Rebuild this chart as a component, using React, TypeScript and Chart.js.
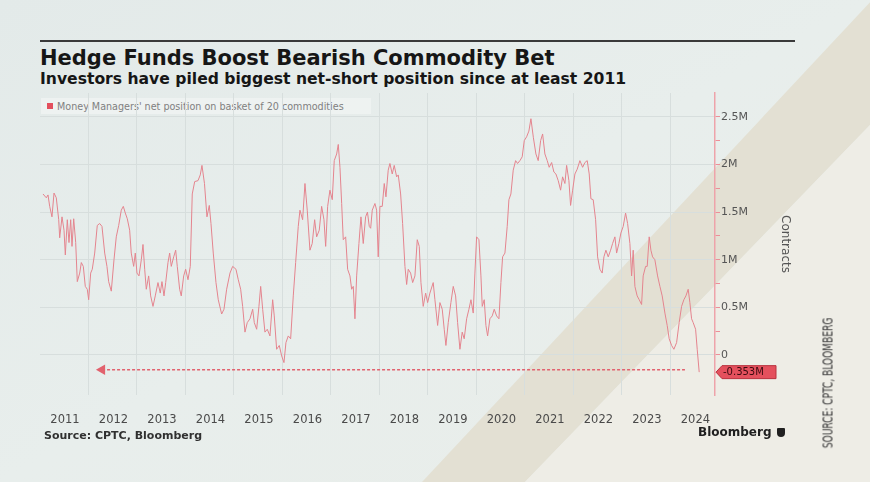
import { useEffect, useRef } from 'react';
import { Chart, registerables } from 'chart.js';

Chart.register(...registerables);

// Sample dates (fractional years) and net position (millions of contracts)
const dates: number[] = [
  2011.062, 2011.130, 2011.165, 2011.200, 2011.247, 2011.289, 2011.336, 2011.386, 2011.406, 2011.454,
  2011.495, 2011.522, 2011.563, 2011.598, 2011.633, 2011.660, 2011.695, 2011.736, 2011.769, 2011.819,
  2011.852, 2011.893, 2011.934, 2011.975, 2012.004, 2012.045, 2012.078, 2012.128, 2012.181, 2012.231,
  2012.278, 2012.334, 2012.381, 2012.416, 2012.470, 2012.526, 2012.573, 2012.623, 2012.676, 2012.718,
  2012.759, 2012.800, 2012.849, 2012.882, 2012.932, 2012.965, 2013.000, 2013.041, 2013.089, 2013.124,
  2013.159, 2013.192, 2013.241, 2013.282, 2013.330, 2013.377, 2013.433, 2013.480, 2013.515, 2013.557,
  2013.592, 2013.639, 2013.674, 2013.707, 2013.757, 2013.798, 2013.831, 2013.880, 2013.913, 2013.963,
  2014.004, 2014.052, 2014.099, 2014.140, 2014.190, 2014.258, 2014.305, 2014.340, 2014.392, 2014.443,
  2014.491, 2014.526, 2014.573, 2014.629, 2014.676, 2014.746, 2014.794, 2014.849, 2014.918, 2014.973,
  2015.041, 2015.089, 2015.138, 2015.179, 2015.227, 2015.274, 2015.330, 2015.386, 2015.419, 2015.468,
  2015.515, 2015.551, 2015.592, 2015.639, 2015.687, 2015.742, 2015.798, 2015.831, 2015.880, 2015.934,
  2015.984, 2016.031, 2016.072, 2016.120, 2016.169, 2016.223, 2016.272, 2016.326, 2016.361, 2016.416,
  2016.464, 2016.511, 2016.567, 2016.614, 2016.664, 2016.705, 2016.759, 2016.808, 2016.856, 2016.891,
  2016.932, 2016.979, 2017.027, 2017.068, 2017.118, 2017.151, 2017.186, 2017.221, 2017.254, 2017.303,
  2017.344, 2017.392, 2017.427, 2017.460, 2017.495, 2017.530, 2017.577, 2017.619, 2017.666, 2017.715,
  2017.753, 2017.790, 2017.819, 2017.852, 2017.907, 2017.942, 2017.975, 2018.010, 2018.058, 2018.099,
  2018.134, 2018.181, 2018.216, 2018.264, 2018.305, 2018.355, 2018.388, 2018.437, 2018.478, 2018.526,
  2018.561, 2018.594, 2018.643, 2018.685, 2018.732, 2018.780, 2018.821, 2018.856, 2018.903, 2018.953,
  2018.994, 2019.041, 2019.109, 2019.144, 2019.200, 2019.247, 2019.295, 2019.336, 2019.371, 2019.419,
  2019.474, 2019.522, 2019.571, 2019.612, 2019.660, 2019.707, 2019.748, 2019.798, 2019.845, 2019.887,
  2019.934, 2019.969, 2020.004, 2020.052, 2020.093, 2020.120, 2020.161, 2020.196, 2020.231, 2020.278,
  2020.326, 2020.367, 2020.416, 2020.464, 2020.505, 2020.540, 2020.588, 2020.635, 2020.670, 2020.711,
  2020.759, 2020.808, 2020.849, 2020.897, 2020.944, 2020.986, 2021.035, 2021.082, 2021.124, 2021.175,
  2021.227, 2021.274, 2021.324, 2021.365, 2021.412, 2021.460, 2021.501, 2021.551, 2021.598, 2021.639,
  2021.687, 2021.736, 2021.777, 2021.825, 2021.860, 2021.907, 2021.942, 2021.984, 2022.031, 2022.078,
  2022.134, 2022.190, 2022.237, 2022.285, 2022.326, 2022.361, 2022.408, 2022.458, 2022.499, 2022.546,
  2022.594, 2022.629, 2022.670, 2022.718, 2022.767, 2022.808, 2022.856, 2022.891, 2022.938, 2022.979,
  2023.027, 2023.076, 2023.118, 2023.165, 2023.200, 2023.233, 2023.268, 2023.315, 2023.357, 2023.406,
  2023.439, 2023.489, 2023.522, 2023.563, 2023.598, 2023.633, 2023.680, 2023.736, 2023.784, 2023.831,
  2023.887, 2023.934, 2023.975, 2024.025, 2024.072, 2024.128, 2024.181, 2024.231, 2024.278, 2024.320,
  2024.367, 2024.402, 2024.437, 2024.470, 2024.520, 2024.553, 2024.594,
];

const values: number[] = [
  1.69, 1.65, 1.68, 1.56, 1.45, 1.70, 1.65, 1.42, 1.23, 1.45,
  1.31, 1.05, 1.42, 1.18, 1.42, 1.14, 1.43, 1.18, 0.77, 0.86,
  0.97, 0.93, 0.72, 0.69, 0.58, 0.86, 0.90, 1.07, 1.36, 1.38,
  1.35, 1.07, 0.93, 0.77, 0.67, 1.00, 1.24, 1.36, 1.52, 1.56,
  1.49, 1.43, 1.31, 1.07, 0.93, 1.07, 0.86, 0.83, 1.00, 1.16,
  0.90, 0.69, 0.83, 0.62, 0.51, 0.62, 0.76, 0.65, 0.77, 0.62,
  0.76, 0.97, 1.07, 0.93, 1.03, 1.10, 0.93, 0.69, 0.62, 0.83,
  0.90, 0.79, 0.93, 1.69, 1.82, 1.83, 1.89, 1.99, 1.80, 1.45,
  1.57, 1.38, 1.07, 0.76, 0.58, 0.43, 0.48, 0.69, 0.86, 0.93,
  0.90, 0.79, 0.69, 0.51, 0.24, 0.34, 0.38, 0.48, 0.34, 0.27,
  0.51, 0.72, 0.48, 0.24, 0.27, 0.20, 0.58, 0.41, 0.06, 0.10,
  -0.01, -0.08, 0.13, 0.20, 0.17, 0.62, 0.97, 1.35, 1.52, 1.42,
  1.80, 1.52, 1.10, 1.17, 1.42, 1.24, 1.31, 1.56, 1.42, 1.14,
  1.56, 1.73, 1.63, 2.04, 2.11, 2.21, 1.97, 1.59, 1.21, 1.24,
  0.90, 0.83, 0.69, 0.72, 0.38, 0.83, 1.17, 1.45, 1.17, 1.45,
  1.50, 1.35, 1.33, 1.52, 1.59, 1.52, 1.03, 1.56, 1.56, 1.80,
  1.66, 1.94, 2.01, 1.90, 1.99, 1.87, 1.89, 1.69, 1.38, 0.93,
  0.74, 0.90, 0.86, 0.76, 0.83, 1.21, 1.14, 0.76, 0.51, 0.65,
  0.55, 0.65, 0.76, 0.58, 0.31, 0.55, 0.48, 0.27, 0.10, 0.34,
  0.55, 0.72, 0.62, 0.34, 0.06, 0.24, 0.17, 0.38, 0.48, 0.58,
  0.44, 0.86, 1.24, 1.21, 0.83, 0.51, 0.58, 0.31, 0.20, 0.38,
  0.41, 0.48, 0.41, 0.38, 0.76, 1.03, 1.07, 1.35, 1.63, 1.69,
  1.94, 2.04, 2.01, 2.04, 2.08, 2.25, 2.29, 2.35, 2.48, 2.28,
  2.11, 2.04, 2.25, 2.32, 2.11, 2.04, 1.97, 2.02, 1.92, 1.90,
  1.83, 1.73, 1.87, 1.80, 1.99, 1.83, 1.57, 1.73, 1.90, 1.95,
  2.04, 1.97, 2.02, 2.04, 1.90, 1.64, 1.63, 1.42, 1.03, 0.90,
  0.86, 1.03, 1.10, 1.03, 1.10, 1.17, 1.24, 1.07, 1.17, 1.28,
  1.35, 1.49, 1.38, 1.17, 0.83, 1.10, 0.72, 0.62, 0.58, 0.53,
  0.83, 0.93, 0.93, 1.24, 1.10, 1.03, 1.00, 0.83, 0.72, 0.62,
  0.44, 0.31, 0.17, 0.10, 0.06, 0.13, 0.34, 0.51, 0.58, 0.62,
  0.69, 0.55, 0.38, 0.34, 0.27, 0.06, -0.18,
];

const yearTicks: number[] = [2011, 2012, 2013, 2014, 2015, 2016, 2017, 2018, 2019, 2020, 2021, 2022, 2023, 2024];
const yTickValues: number[] = [0, 0.25, 0.5, 0.75, 1, 1.25, 1.5, 1.75, 2, 2.25, 2.5];
const yTickLabels: string[] = ['0', '', '0.5M', '', '1M', '', '1.5M', '', '2M', '', '2.5M'];

const arrowDates: number[] = [2012.28, 2024.3];
const arrowValues: number[] = [-0.155, -0.155];
const latestLabel = '-0.353M';

const FONT = "'DejaVu Sans', 'Noto Sans', sans-serif";

const latestPlugin = {
  id: 'latestLabel',
  afterDraw(chart: any) {
    const { ctx, chartArea, scales } = chart;
    const y = scales.y.getPixelForValue(values[values.length - 1]);
    const x0 = chartArea.right + 1;
    ctx.save();
    ctx.beginPath();
    ctx.moveTo(x0, y);
    ctx.lineTo(x0 + 6, y - 6.5);
    ctx.lineTo(x0 + 60, y - 6.5);
    ctx.lineTo(x0 + 60, y + 6.5);
    ctx.lineTo(x0 + 6, y + 6.5);
    ctx.closePath();
    ctx.fillStyle = '#e4505d';
    ctx.fill();
    ctx.strokeStyle = '#b8323f';
    ctx.lineWidth = 1;
    ctx.stroke();
    ctx.fillStyle = '#3b0a10';
    ctx.font = `10px ${FONT}`;
    ctx.textBaseline = 'middle';
    ctx.textAlign = 'left';
    ctx.fillText(latestLabel, x0 + 7, y + 0.5);
    ctx.restore();
  },
};

function ChartCanvas() {
  const ref = useRef<HTMLCanvasElement | null>(null);
  useEffect(() => {
    if (!ref.current) return;
    const chart = new Chart(ref.current, {
      type: 'line',
      data: {
        datasets: [
          {
            label: "Money Managers' net position on basket of 20 commodities",
            data: dates.map((d, i) => ({ x: d, y: values[i] })),
            borderColor: '#e4848e',
            borderWidth: 1,
            pointRadius: 0,
            tension: 0,
          },
          {
            label: 'arrow',
            data: arrowDates.map((d, i) => ({ x: d, y: arrowValues[i] })),
            borderColor: '#e2626e',
            borderWidth: 1.6,
            borderDash: [3, 2],
            pointRadius: [4.5, 0],
            pointStyle: 'triangle',
            rotation: -90,
            pointBackgroundColor: '#e2626e',
            pointBorderColor: '#e2626e',
            tension: 0,
          } as any,
        ],
      },
      options: {
        animation: false,
        responsive: false,
        layout: { padding: { top: 93, left: 40, right: 74, bottom: 57 } },
        plugins: { legend: { display: false }, tooltip: { enabled: false }, title: { display: false } },
        scales: {
          x: {
            type: 'linear',
            min: 2011,
            max: 2024.92,
            afterBuildTicks: (axis: any) => {
              axis.ticks = yearTicks.map((v) => ({ value: v }));
            },
            afterFit: (scale: any) => {
              scale.height = 30;
            },
            border: { display: false },
            grid: {
              color: (c: any) => (c.tick && c.tick.value === 2011 ? 'rgba(0,0,0,0)' : '#d7dedd'),
              lineWidth: 1,
              drawTicks: false,
            },
            ticks: {
              autoSkip: false,
              maxRotation: 0,
              labelOffset: 25,
              padding: 18,
              color: '#4a4a4a',
              font: { family: FONT, size: 11.5 },
              callback: (v: any) => String(v),
            },
          },
          y: {
            type: 'linear',
            position: 'right',
            min: -0.42,
            max: 2.75,
            afterBuildTicks: (axis: any) => {
              axis.ticks = yTickValues.map((v) => ({ value: v }));
            },
            afterFit: (scale: any) => {
              scale.width = 81;
            },
            border: { display: true, color: '#eea3aa', width: 1.5 },
            grid: {
              color: (c: any) => (c.index % 2 === 0 ? '#d7dedd' : 'rgba(0,0,0,0)'),
              tickColor: '#eb8f98',
              tickLength: 5,
              lineWidth: 1,
            },
            ticks: {
              padding: 1,
              color: '#555',
              font: { family: FONT, size: 11 },
              callback: (_v: any, i: number) => yTickLabels[i],
            },
            title: {
              display: true,
              text: 'Contracts',
              color: '#555',
              font: { family: FONT, size: 12 },
              padding: { top: 4, bottom: 4 },
            },
          },
        },
      },
      plugins: [latestPlugin],
    });
    return () => chart.destroy();
  }, []);
  return (
    <canvas
      ref={ref}
      width={870}
      height={482}
      style={{ position: 'absolute', left: 0, top: 0, width: 870, height: 482 }}
    />
  );
}

export default function App() {
  return (
    <div
      style={{
        position: 'absolute',
        left: 0,
        top: 0,
        width: 870,
        height: 482,
        overflow: 'hidden',
        fontFamily: FONT,
      }}
    >
      <svg width={870} height={482} style={{ position: 'absolute', left: 0, top: 0 }}>
        <defs>
          <linearGradient id="bg" x1="0" y1="0" x2="1" y2="1">
            <stop offset="0" stopColor="#e3eae9" />
            <stop offset="0.5" stopColor="#e8eeec" />
            <stop offset="1" stopColor="#e9ede9" />
          </linearGradient>
        </defs>
        <rect x={0} y={0} width={870} height={482} fill="url(#bg)" />
        <polygon points="422,482 872,0 870,125 525,482" fill="#e3e0d3" />
        <polygon points="525,482 870,125 870,482" fill="#eeede6" />
      </svg>
      <div style={{ position: 'absolute', left: 40, top: 40, width: 755, height: 2, background: '#3a3a3a' }} />
      <div
        style={{
          position: 'absolute',
          left: 40,
          top: 46,
          fontSize: 21,
          lineHeight: '24px',
          fontWeight: 'bold',
          color: '#161616',
          whiteSpace: 'nowrap',
        }}
      >
        Hedge Funds Boost Bearish Commodity Bet
      </div>
      <div
        style={{
          position: 'absolute',
          left: 40,
          top: 70,
          fontSize: 15.6,
          lineHeight: '18px',
          fontWeight: 'bold',
          color: '#161616',
          whiteSpace: 'nowrap',
        }}
      >
        Investors have piled biggest net-short position since at least 2011
      </div>
      <div
        style={{
          position: 'absolute',
          left: 41,
          top: 98,
          width: 330,
          height: 16,
          background: 'rgba(240,244,243,0.8)',
        }}
      />
      <div
        style={{ position: 'absolute', left: 47, top: 103, width: 6, height: 6, background: '#e34f5d' }}
      />
      <div
        style={{
          position: 'absolute',
          left: 57,
          top: 100.5,
          fontSize: 9.6,
          lineHeight: '12px',
          color: '#808080',
          whiteSpace: 'nowrap',
        }}
      >
        Money Managers' net position on basket of 20 commodities
      </div>
      <ChartCanvas />
      <div
        style={{
          position: 'absolute',
          left: 44,
          top: 429,
          fontSize: 11,
          lineHeight: '13px',
          fontWeight: 'bold',
          color: '#303030',
          whiteSpace: 'nowrap',
        }}
      >
        Source: CPTC, Bloomberg
      </div>
      <div
        style={{
          position: 'absolute',
          left: 698,
          top: 425,
          fontSize: 12,
          lineHeight: '15px',
          fontWeight: 'bold',
          color: '#202020',
          whiteSpace: 'nowrap',
        }}
      >
        Bloomberg
      </div>
      <div
        style={{
          position: 'absolute',
          left: 777,
          top: 428,
          width: 8,
          height: 9,
          background: '#202020',
          borderRadius: '1px 1px 4px 4px',
        }}
      />
      <div
        style={{
          position: 'absolute',
          left: 827.5,
          top: 382.5,
          transform: 'translate(-50%, -50%) rotate(-90deg) scaleX(0.72)',
          fontFamily: "'DejaVu Sans Condensed', 'DejaVu Sans', sans-serif",
          fontSize: 14,
          lineHeight: '15px',
          color: '#3a3a3a',
          whiteSpace: 'nowrap',
        }}
      >
        SOURCE: CPTC, BLOOMBERG
      </div>
    </div>
  );
}
